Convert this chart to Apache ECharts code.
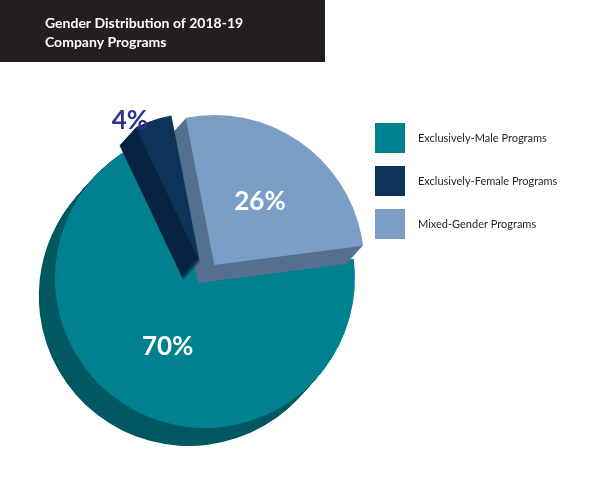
<!DOCTYPE html>
<html>
<head>
<meta charset="utf-8">
<script src="https://cdn.jsdelivr.net/npm/echarts@6/dist/echarts.min.js"></script>
<style>
  html, body { margin: 0; padding: 0; background: #fff; }
  #chart { width: 600px; height: 480px; }
</style>
</head>
<body>
<div id="chart"></div>
<script>
// data, in clockwise drawing order from the top
const categories = ['Mixed-Gender Programs', 'Exclusively-Male Programs', 'Exclusively-Female Programs'];
const values = [26, 70, 4];
const legendOrder = ['Exclusively-Male Programs', 'Exclusively-Female Programs', 'Mixed-Gender Programs'];
const exploded = [true, false, true];

const topColors = ['#7a9ec6', '#00818f', '#0d3358'];
const sideColors = ['#56708f', '#005862', '#082340'];

const chart = echarts.init(document.getElementById('chart'));

const cx = 205, cy = 278, r = 150;
const startAngle = 101;
const series = [];

// extruded side: stacked copies shifted down-left
const depth = 18;
for (let i = depth; i >= 1; i--) {
    series.push({
        type: 'pie',
        silent: true,
        radius: r,
        center: [cx - i * 0.9, cy + i],
        startAngle: startAngle,
        selectedMode: 'multiple',
        selectedOffset: 16,
        label: { show: false },
        labelLine: { show: false },
        data: categories.map((c, k) => ({
            name: c + ' side',
            value: values[k],
            selected: exploded[k],
            itemStyle: { color: sideColors[k] }
        }))
    });
}

series.push({
    type: 'pie',
    radius: r,
    center: [cx, cy],
    startAngle: startAngle,
    selectedMode: 'multiple',
    selectedOffset: 16,
    label: {
        show: true,
        position: 'inside',
        formatter: '{c}%',
        color: '#fff',
        fontSize: 26,
        fontWeight: 'bold',
        fontFamily: 'Lato'
    },
    labelLine: { show: false },
    data: categories.map((c, k) => {
        const d = {
            name: c,
            value: values[k],
            selected: exploded[k],
            itemStyle: { color: topColors[k] }
        };
        if (k === 2) {
            d.label = { position: 'outside', color: '#2e3192', fontSize: 26, distance: 4, offset: [-30, 0] };
            d.labelLine = { show: false, length: 0, length2: 0 };
        }
        return d;
    })
});

chart.setOption({
    animation: false,
    color: topColors,
    legend: {
        orient: 'vertical',
        left: 370,
        top: 118,
        itemWidth: 30,
        itemHeight: 30,
        itemGap: 13,
        icon: 'rect',
        selectedMode: false,
        data: legendOrder.map(n => ({ name: n, itemStyle: { color: topColors[categories.indexOf(n)] } })),
        textStyle: { fontSize: 11, color: '#231f20', fontFamily: 'Lato', padding: [0, 0, 0, 8] }
    },
    graphic: [
        { type: 'rect', left: 0, top: 0, shape: { width: 325, height: 62 }, style: { fill: '#231f20' } },
        {
            type: 'text', left: 45, top: 14,
            style: {
                text: 'Gender Distribution of 2018-19\nCompany Programs',
                fill: '#fff', font: 'bold 14px Lato', lineHeight: 19
            }
        }
    ],
    series: series
});
</script>
</body>
</html>
